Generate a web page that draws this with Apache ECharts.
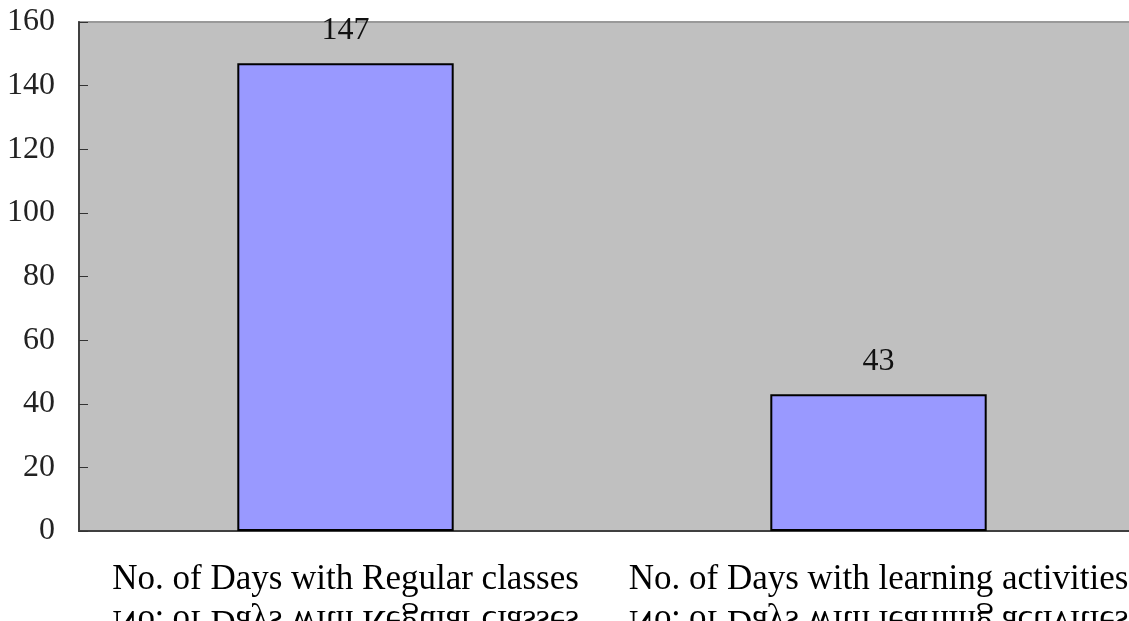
<!DOCTYPE html>
<html>
<head>
<meta charset="utf-8">
<script src="https://cdn.jsdelivr.net/npm/echarts@6/dist/echarts.min.js"></script>
<style>
html,body{margin:0;padding:0;background:#fff;}
#c{width:1129px;height:621px;}
</style>
</head>
<body>
<div id="c"></div>
<script>
var categories = ['No. of Days with Regular classes', 'No. of Days with learning activities'];
var values = [147, 43];
var yMin = 0, yMax = 160, yInterval = 20;

var chart = echarts.init(document.getElementById('c'), null, {renderer: 'canvas'});
var serif = '"Liberation Serif", "Times New Roman", serif';
chart.setOption({
  animation: false,
  backgroundColor: '#ffffff',
  grid: {
    left: 79, top: 22, width: 1066, bottom: 90,
    outerBoundsMode: 'none', containLabel: false,
    show: true, backgroundColor: '#c0c0c0', borderColor: '#999999', borderWidth: 2
  },
  xAxis: {
    type: 'category',
    data: categories,
    axisLine: {lineStyle: {color: '#404040', width: 2}},
    axisTick: {inside: true, length: 9, lineStyle: {color: '#222', width: 2}},
    axisLabel: {fontFamily: serif, fontSize: 35, color: '#000', margin: 31, interval: 0}
  },
  yAxis: {
    type: 'value', min: yMin, max: yMax, interval: yInterval,
    axisLine: {show: true, lineStyle: {color: '#404040', width: 2}},
    axisTick: {show: true, inside: true, length: 9, lineStyle: {color: '#333', width: 1}},
    splitLine: {show: false},
    axisLabel: {fontFamily: serif, fontSize: 32, color: '#222', margin: 24}
  },
  series: [{
    type: 'bar',
    data: values,
    barWidth: '40.6%',
    itemStyle: {color: '#9999ff', borderColor: '#000', borderWidth: 2},
    label: {show: true, position: 'top', distance: 17, fontFamily: serif, fontSize: 32, color: '#111'}
  }]
});

// mirrored (vertically flipped) copy of the category labels, clipped by the bottom edge
var graphics = categories.map(function (name, i) {
  var px = chart.convertToPixel({xAxisIndex: 0}, name);
  return {
    type: 'text', x: px, y: 603, scaleY: -1, silent: true,
    style: {text: name, font: '35px ' + serif, fill: '#000', align: 'center', verticalAlign: 'bottom'}
  };
});
chart.setOption({graphic: graphics});
</script>
</body>
</html>
